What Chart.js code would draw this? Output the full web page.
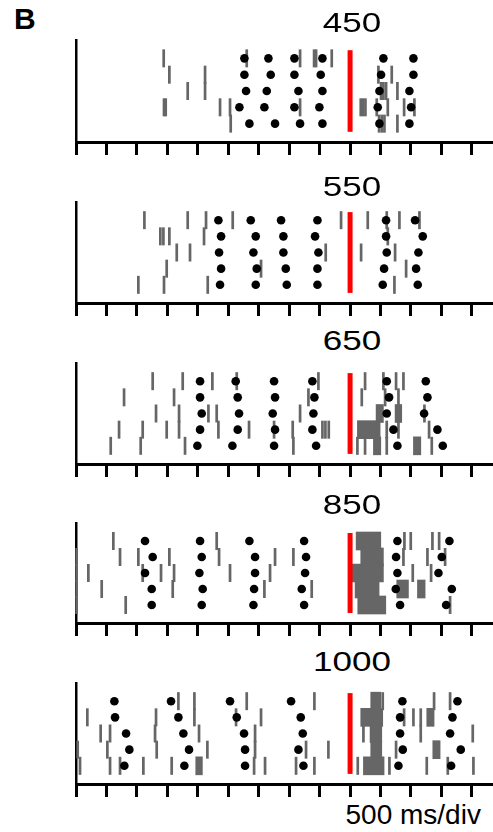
<!DOCTYPE html>
<html><head><meta charset="utf-8">
<script src="https://cdn.jsdelivr.net/npm/chart.js@4/dist/chart.umd.min.js"></script>
<style>
html,body{margin:0;padding:0;background:#fff;}
#wrap{position:relative;width:493px;height:832px;overflow:hidden;background:#fff;}
#wrap canvas{position:absolute;left:0;}
.lbl{position:absolute;font-family:"Liberation Sans",Arial,sans-serif;color:#000;white-space:nowrap;}
.num{width:200px;text-align:center;font-size:28px;line-height:28px;transform:scaleX(1.25);transform-origin:50% 50%;}
</style></head><body><div id="wrap"></div>
<script>
// ---------- data (ms relative to the red marker; rows listed top to bottom) ----------
const intervals = [450, 550, 650, 850, 1000];
const tickValues = [-4500,-4000,-3500,-3000,-2500,-2000,-1500,-1000,-500,0,500,1000,1500,2000];
const axisLabel = "500 ms/div";
const panelLetter = "B";

const spikes450 = [
  [-3060,-1697,-821,-591,-558,-301],
  [-2967,-2381,465,684],
  [-2666,-2381,509,547,591,777],
  [-3055,-3027,-2135,-1971,-821,175,213,252,438,619,887,1056],
  [-1960,476,520,564,777]
];
const dots450 = [
  [-1735,-1341,-914,-454,547,1040],
  [-1735,-1303,-914,-482,509,1040],
  [-1708,-1368,-848,-454,482,974],
  [-1817,-1407,-914,-504,454,1002],
  [-1653,-1232,-821,-454,482,974]
];
const bursts450 = [[],[],[],[],[]];

const spikes550 = [
  [-3377,-2666,-2365,-1927,-148,290,602,810,1139],
  [-3115,-3065,-2967,-2398,619],
  [-2846,-2628,-400,181,739],
  [-3011,-1462,920],
  [-3476,-3055,-2337,728]
];
const dots550 = [
  [-2162,-1631,-1133,-536,591,1067],
  [-2118,-1549,-1095,-575,591,1193],
  [-2151,-1587,-1095,-520,602,1122],
  [-2118,-1533,-1056,-536,558,1084],
  [-2135,-1549,-1040,-536,536,1111]
];
const bursts550 = [[],[],[],[],[]];

const spikes650 = [
  [-3241,-2748,-2261,-1861,-520,246,547,755,876],
  [-3711,-2890,-684,192,575,794],
  [-3186,-2808,-2326,-2190,-821,1221],
  [-3793,-3405,-3011,-2808,-2162,-1659,-1248,-942,-454,-405,-350,602,794,1297],
  [-3930,-3438,-2710,-931,120,246,602,1341]
];
const dots650 = [
  [-2463,-1878,-1248,-619,602,1243],
  [-2463,-1845,-1232,-586,640,1270],
  [-2436,-1823,-1270,-602,602,1215],
  [-2463,-1845,-1232,-619,712,1434],
  [-2507,-1932,-1248,-558,777,1522]
];
const bursts650 = [
  [],
  [],
  [[427,547],[739,848]],
  [[120,493]],
  [[383,504],[1040,1161]]
];

const spikes850 = [
  [-3887,-2190,892,996,1352,1462],
  [-4489,-3777,-3476,-2967,-2151,-1232,-931,876,1270,1560],
  [-4489,-4297,-3405,-3104,-2890,-1971,-1314,1029,1330],
  [-4489,-4078,-2912,-1407,-630],
  [-4489,-3684,1642]
];
const dots850 = [
  [-3367,-2463,-1653,-755,777,1631],
  [-3241,-2436,-1560,-723,755,1505],
  [-3367,-2474,-1560,-739,777,1451],
  [-3257,-2420,-1576,-794,750,1670],
  [-3257,-2436,-1587,-755,821,1577]
];
const bursts850 = [
  [[99,504]],
  [[175,547]],
  [[27,547]],
  [[82,476],[766,958],[1106,1232]],
  [[126,586]]
];

const spikes1000 = [
  [-2819,-2556,-1697,-586,536,1379,1642],
  [-4314,-3186,-2556,-1872,-1462,887,1040,1160],
  [-4095,-3941,-3202,-2480,-1560,219,1160,2014],
  [-4472,-3985,-3175,-2343,-1560,-723,-356,755],
  [-4434,-3941,-3777,-3394,-2929,-1576,-1396,-887,-586,126,646,1259,1604,2025]
];
const dots1000 = [
  [-3870,-2940,-1971,-969,859,1763],
  [-3859,-2819,-1861,-810,821,1681],
  [-3678,-2737,-1741,-777,821,1642],
  [-3624,-2644,-1724,-848,865,1817],
  [-3706,-2721,-1724,-766,794,1659]
];
const bursts1000 = [
  [[339,504]],
  [[175,536],[1259,1379]],
  [[328,520]],
  [[339,520],[1358,1478]],
  [[-2534,-2425],[219,558]]
];

const allSpikes = [spikes450, spikes550, spikes650, spikes850, spikes1000];
const allDots = [dots450, dots550, dots650, dots850, dots1000];
const allBursts = [bursts450, bursts550, bursts650, bursts850, bursts1000];

// ---------- layout / style ----------
const xMin = -4500, xMax = 2330;
const axisTops = [40, 202, 363, 523, 683];
const axisBottoms = [142, 303, 464, 623, 784];
const titleBaselines = [33, 197, 351, 515, 672];
const GRAY = '#666666';
const PAD_TOP = 5, TICK_LEN = 13, PAD_BOTTOM = 2;

const wrap = document.getElementById('wrap');

function addLabel(text, cls, left, top, extraStyle) {
  const d = document.createElement('div');
  d.className = 'lbl ' + (cls || '');
  d.textContent = text;
  d.style.left = left + 'px';
  d.style.top = top + 'px';
  if (extraStyle) Object.assign(d.style, extraStyle);
  wrap.appendChild(d);
}

addLabel(panelLetter, '', 14, 4, {fontWeight:'bold', fontSize:'30px', lineHeight:'30px'});

const rowsN = 5;
intervals.forEach((iv, i) => {
  const plotH = axisBottoms[i] - axisTops[i];
  const c = document.createElement('canvas');
  c.width = 493;
  c.height = PAD_TOP + plotH + TICK_LEN + PAD_BOTTOM;
  c.style.width = '493px';
  c.style.height = c.height + 'px';
  c.style.top = (axisTops[i] - PAD_TOP) + 'px';
  wrap.appendChild(c);

  const spikeData = allSpikes[i].flatMap((row, r) => row.map(t => ({x: t, y: rowsN - r})));
  const dotData = allDots[i].flatMap((row, r) => row.map(t => ({x: t, y: rowsN - r})));
  const burstData = allBursts[i].flatMap((row, r) => row.map(seg => ({x: [seg[0], seg[1]], y: rowsN - r})));

  new Chart(c, {
    type: 'scatter',
    data: {
      datasets: [
        {type:'line', label:'marker', data:[{x:0,y:0.5},{x:0,y:5.5}], borderColor:'#ff0000', borderWidth:5,
         pointRadius:0, fill:false, borderCapStyle:'butt', order:0, clip:false},
        {type:'scatter', label:'taps', data: dotData, pointStyle:'circle', pointRadius:4.3,
         pointBackgroundColor:'#000', pointBorderColor:'#000', pointBorderWidth:0, order:1, clip:false},
        {type:'scatter', label:'spikes', data: spikeData, pointStyle:'line', pointRotation:90, pointRadius:9,
         pointBorderWidth:2.7, pointBorderColor:GRAY, pointBackgroundColor:GRAY, order:2, clip:false},
        {type:'bar', label:'bursts', data: burstData, indexAxis:'y', backgroundColor:GRAY, borderWidth:0,
         barThickness:18, order:3}
      ]
    },
    options: {
      responsive:false, maintainAspectRatio:false, animation:false, events:[], devicePixelRatio:1,
      layout:{autoPadding:false, padding:{left:76, right:1, top:PAD_TOP, bottom:PAD_BOTTOM}},
      plugins:{legend:{display:false}, tooltip:{enabled:false}, title:{display:false}},
      scales:{
        x:{type:'linear', min:xMin, max:xMax,
           afterBuildTicks: s => { s.ticks = tickValues.map(v => ({value:v})); },
           ticks:{display:false},
           grid:{display:true, drawOnChartArea:false, drawTicks:true, tickLength:TICK_LEN, tickWidth:3, tickColor:'#000'},
           border:{display:true, color:'#000', width:3}},
        y:{type:'linear', min:0.5, max:5.5,
           ticks:{display:false}, grid:{display:false, drawTicks:false, tickLength:0},
           border:{display:true, color:'#000', width:2.5}}
      }
    }
  });

  addLabel(String(iv), 'num', 252, titleBaselines[i] - 23.7);
});

addLabel(axisLabel, '', 345.5, 801, {fontSize:'28px', lineHeight:'28px'});
</script>
</body></html>
